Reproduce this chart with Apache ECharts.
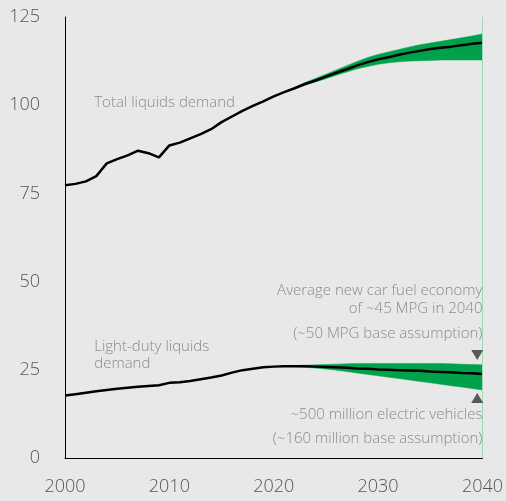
<!DOCTYPE html>
<html>
<head>
<meta charset="utf-8">
<script src="https://cdn.jsdelivr.net/npm/echarts@6/dist/echarts.min.js"></script>
<style>
  html, body { margin: 0; padding: 0; background: #e8e8e8; }
  #chart { width: 506px; height: 501px; }
</style>
</head>
<body>
<div id="chart"></div>
<script>
// Years 2000..2040
const years = [];
for (let y = 2000; y <= 2040; y++) years.push(y);

// Total liquids demand (million barrels per day), 2000-2040
const totalDemand = [
  77.3, 77.7, 78.4, 79.9, 83.5, 84.7, 85.8, 87.1, 86.4, 85.2,
  88.6, 89.4, 90.6, 91.8, 93.2, 95.2, 96.8, 98.4, 99.8, 101.1,
  102.5, 103.7, 104.8, 106.0, 107.0, 108.1, 109.2, 110.2, 111.3, 112.2,
  113.0, 113.6, 114.3, 114.9, 115.4, 115.9, 116.3, 116.6, 117.0, 117.4,
  117.7
];

// Range around total demand, 2021-2040
const totalYears = [2021, 2022, 2023, 2024, 2025, 2026, 2027, 2028, 2029, 2030,
  2031, 2032, 2033, 2034, 2035, 2036, 2037, 2038, 2039, 2040];
const totalHigh = [103.7, 105.0, 106.4, 107.6, 108.8, 110.0, 111.2, 112.4, 113.5, 114.4,
  115.1, 115.8, 116.5, 117.1, 117.6, 118.1, 118.6, 119.1, 119.6, 120.2];
const totalLow = [103.7, 104.6, 105.7, 106.6, 107.5, 108.5, 109.4, 110.3, 111.0, 111.6,
  112.0, 112.3, 112.5, 112.6, 112.7, 112.8, 112.8, 112.8, 112.8, 112.8];

// Light-duty liquids demand, 2000-2040
const lightDuty = [
  17.7, 18.1, 18.5, 18.9, 19.3, 19.6, 19.9, 20.2, 20.4, 20.6,
  21.3, 21.5, 21.8, 22.3, 22.8, 23.4, 24.2, 24.9, 25.3, 25.7,
  25.9, 26.0, 26.0, 26.0, 25.9, 25.8, 25.7, 25.6, 25.4, 25.3,
  25.1, 25.0, 24.9, 24.8, 24.7, 24.5, 24.4, 24.3, 24.1, 24.0,
  23.8
];

// Range around light-duty demand, 2020-2040
const lightYears = [2020, 2021, 2022, 2023, 2024, 2025, 2026, 2027, 2028, 2029, 2030,
  2031, 2032, 2033, 2034, 2035, 2036, 2037, 2038, 2039, 2040];
const lightHigh = [25.9, 26.1, 26.2, 26.3, 26.4, 26.5, 26.6, 26.7, 26.8, 26.8, 26.8,
  26.8, 26.8, 26.8, 26.8, 26.8, 26.8, 26.7, 26.6, 26.5, 26.4];
const lightLow = [25.9, 26.0, 25.9, 25.7, 25.5, 25.2, 24.9, 24.5, 24.1, 23.7, 23.3,
  22.9, 22.5, 22.1, 21.7, 21.3, 20.9, 20.5, 20.1, 19.7, 19.3];

// Marker values for the scenario arrows
const arrowYear = 2039.5;
const arrowDown = 29.2;
const arrowUp = 17.0;

const yTicks = [0, 25, 50, 75, 100, 125];
const xTicks = [2000, 2010, 2020, 2030, 2040];

const GREEN = '#00a14b';
const TEXT = '#8a8a8a';
const FONT = '"Open Sans", "DejaVu Sans", sans-serif';

function pairs(xs, ys) { return xs.map((x, i) => [x, ys[i]]); }

// A filled band between two curves, drawn through the grid's coordinate system
function bandSeries(xs, hi, lo) {
  const rows = xs.map((x, i) => [x, lo[i], hi[i]]);
  return {
    type: 'custom',
    silent: true,
    z: 1,
    encode: { x: 0, y: [1, 2] },
    data: rows,
    renderItem(params, api) {
      if (params.dataIndex !== 0) return null;
      const top = rows.map(r => api.coord([r[0], r[2]]));
      const bottom = rows.slice().reverse().map(r => api.coord([r[0], r[1]]));
      return {
        type: 'polygon',
        shape: { points: top.concat(bottom) },
        style: { fill: GREEN, stroke: GREEN, lineWidth: 0.5 }
      };
    }
  };
}

const chart = echarts.init(document.getElementById('chart'));

const axisLabel = {
  color: '#555', fontSize: 18, fontFamily: FONT, fontWeight: 300
};

chart.setOption({
  backgroundColor: '#e8e8e8',
  animation: false,
  grid: { left: 65, right: 22, top: 17, bottom: 43 },
  xAxis: {
    type: 'value', min: xTicks[0], max: xTicks[xTicks.length - 1], interval: 10,
    axisLine: { lineStyle: { color: '#000', width: 1 } },
    axisTick: { show: false },
    splitLine: { show: false },
    axisLabel: Object.assign({}, axisLabel, { margin: 20, formatter: v => String(v) })
  },
  yAxis: {
    type: 'value', min: yTicks[0], max: yTicks[yTicks.length - 1], interval: 25,
    axisLine: { show: true, lineStyle: { color: '#000', width: 1 } },
    axisTick: { show: false },
    splitLine: { show: false },
    axisLabel: Object.assign({}, axisLabel, { margin: 25 })
  },
  series: [
    bandSeries(totalYears, totalHigh, totalLow),
    bandSeries(lightYears, lightHigh, lightLow),
    { type: 'line', z: 3, data: pairs(years, totalDemand), symbol: 'none',
      lineStyle: { color: '#000', width: 2.5 } },
    { type: 'line', z: 3, data: pairs(years, lightDuty), symbol: 'none',
      lineStyle: { color: '#000', width: 2.5 },
      markLine: {
        silent: true, symbol: 'none', label: { show: false },
        lineStyle: { color: '#9ed8b4', width: 1, type: 'solid' },
        data: [{ xAxis: 2040 }]
      },
      markPoint: {
        silent: true, label: { show: false },
        itemStyle: { color: '#595959' },
        data: [
          { coord: [arrowYear, arrowDown], symbol: 'triangle', symbolRotate: 180, symbolSize: [12, 10] },
          { coord: [arrowYear, arrowUp], symbol: 'triangle', symbolSize: [12, 10] }
        ]
      }
    }
  ]
});

// Annotation text anchored in data coordinates
function px(x, y) { return chart.convertToPixel({ gridIndex: 0 }, [x, y]); }
const notes = [
  { at: [2002.8, 100.6], text: 'Total liquids demand', align: 'left' },
  { at: [2002.8, 31.5], text: 'Light-duty liquids', align: 'left' },
  { at: [2002.8, 26.7], text: 'demand', align: 'left' },
  { at: [2040, 47.3], text: 'Average new car fuel economy', align: 'right' },
  { at: [2040, 42.4], text: 'of ~45 MPG in 2040', align: 'right' },
  { at: [2040, 35.3], text: '(~50 MPG base assumption)', align: 'right' },
  { at: [2040, 12.2], text: '~500 million electric vehicles', align: 'right' },
  { at: [2040, 5.6], text: '(~160 million base assumption)', align: 'right' }
];
chart.setOption({
  graphic: notes.map(n => {
    const p = px(n.at[0], n.at[1]);
    return {
      type: 'text', x: p[0], y: p[1], silent: true,
      style: { text: n.text, fill: TEXT, font: '300 15px ' + FONT,
               textAlign: n.align, textVerticalAlign: 'middle' }
    };
  })
});
</script>
</body>
</html>
